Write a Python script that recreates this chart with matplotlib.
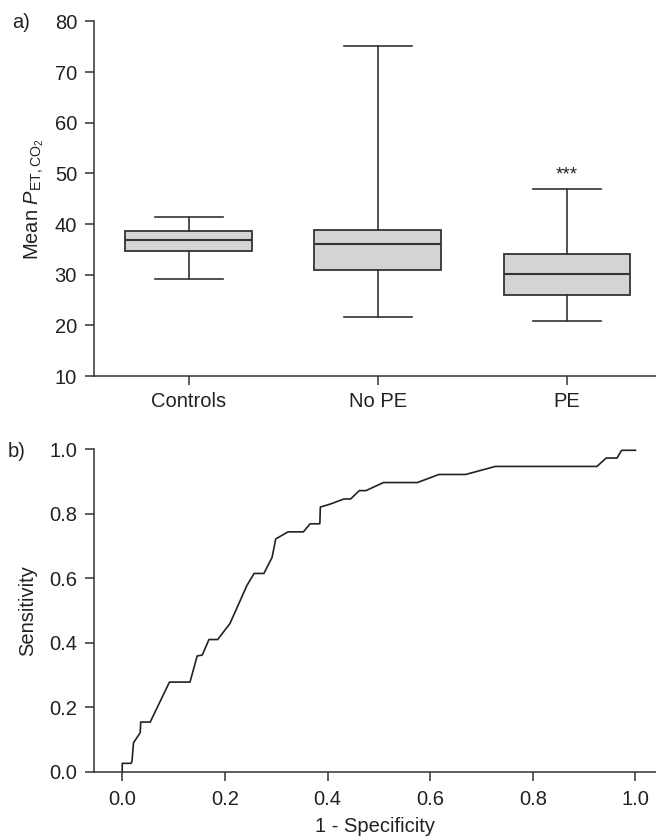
import numpy as np
import matplotlib
matplotlib.use('Agg')
import matplotlib.pyplot as plt

plt.rcParams['font.family'] = ['Liberation Sans', 'DejaVu Sans']
plt.rcParams['mathtext.fontset'] = 'custom'
plt.rcParams['mathtext.rm'] = 'Liberation Sans'
plt.rcParams['mathtext.it'] = 'Liberation Sans:italic'

# box plot stats
groups = ['Controls', 'No PE', 'PE']
whis_lo = [29.1, 21.7, 20.9]
q1 = [34.6, 30.9, 26.05]
med = [36.85, 36.05, 30.1]
q3 = [38.7, 38.8, 34.1]
whis_hi = [41.45, 75.1, 46.9]
star_y = 49.6

# ROC curve (panel b)
fpr = [0.0, 0.0, 0.017, 0.019, 0.022, 0.035, 0.036, 0.0545, 0.092, 0.132, 0.146,
       0.156, 0.169, 0.186, 0.21, 0.243, 0.257, 0.276, 0.292, 0.299, 0.323, 0.353,
       0.366, 0.385, 0.386, 0.405, 0.432, 0.445, 0.462, 0.475, 0.509, 0.575,
       0.617, 0.669, 0.727, 0.925, 0.943, 0.964, 0.973, 1.0]
tpr = [0.0, 0.026, 0.026, 0.032, 0.09, 0.121, 0.154, 0.154, 0.278, 0.278, 0.359,
       0.362, 0.41, 0.41, 0.46, 0.578, 0.615, 0.615, 0.665, 0.722, 0.744, 0.744,
       0.769, 0.769, 0.821, 0.830, 0.846, 0.846, 0.872, 0.872, 0.897, 0.897,
       0.922, 0.922, 0.947, 0.947, 0.973, 0.973, 0.997, 0.997]

dark = '#333333'
txt = '#222222'
fill = '#d3d4d6'
fs = 14.5

fig = plt.figure(figsize=(6.56, 8.38), dpi=100)
ax1 = fig.add_axes([0.1433, 0.5513, 0.8567, 0.4232])
ax2 = fig.add_axes([0.1433, 0.0791, 0.8567, 0.3847])

for ax in (ax1, ax2):
    for s in ('top', 'right'):
        ax.spines[s].set_visible(False)
    for s in ('left', 'bottom'):
        ax.spines[s].set_color(dark)
        ax.spines[s].set_linewidth(1.1)
    ax.tick_params(direction='out', length=6.7, width=1.1, color=dark,
                   labelcolor=txt, labelsize=fs)
    ax.tick_params(axis='y', pad=5.5)

# panel a
stats = []
for i, g in enumerate(groups):
    stats.append(dict(label=g, whislo=whis_lo[i], q1=q1[i], med=med[i],
                      q3=q3[i], whishi=whis_hi[i], fliers=[]))
ax1.bxp(stats, positions=[1, 2, 3], widths=0.67, patch_artist=True,
        showfliers=False, capwidths=0.36,
        boxprops=dict(facecolor=fill, edgecolor=dark, linewidth=1.3),
        medianprops=dict(color=dark, linewidth=1.5),
        whiskerprops=dict(color=dark, linewidth=1.2),
        capprops=dict(color=dark, linewidth=1.2))
ax1.set_xlim(0.5, 3.47)
ax1.set_ylim(10, 80)
ax1.set_yticks(np.arange(10, 81, 10))
ax1.set_xticks([1, 2, 3])
ax1.set_xticklabels(groups)
ax1.tick_params(axis='x', pad=5.0)
ax1.text(3, star_y, '***', ha='center', va='center', fontsize=13.5, color=txt)
ax1.set_ylabel(r'Mean $\mathit{P}_{\mathrm{ET,CO}_2}$', fontsize=fs, color=txt)
ax1.yaxis.set_label_coords(-0.085, 0.5)

# panel b
ax2.plot(fpr, tpr, color='#222222', linewidth=1.2, clip_on=False)
ax2.set_xlim(-0.055, 1.04)
ax2.set_ylim(0, 1.0)
ax2.set_xticks(np.arange(0, 1.01, 0.2))
ax2.set_yticks(np.arange(0, 1.01, 0.2))
ax2.xaxis.set_major_formatter(matplotlib.ticker.FormatStrFormatter('%.1f'))
ax2.yaxis.set_major_formatter(matplotlib.ticker.FormatStrFormatter('%.1f'))
ax2.tick_params(axis='x', pad=6.5)
ax2.set_ylabel('Sensitivity', fontsize=fs, color=txt)
ax2.yaxis.set_label_coords(-0.101, 0.5)
ax2.set_xlabel('1 - Specificity', fontsize=fs, color=txt)
ax2.xaxis.set_label_coords(0.5, -0.14)

fig.text(12 / 656, 1 - 22 / 838, 'a)', fontsize=fs, color=txt, va='center')
fig.text(8 / 656, 1 - 451 / 838, 'b)', fontsize=fs, color=txt, va='center')

fig.savefig('out.png', dpi=100)
